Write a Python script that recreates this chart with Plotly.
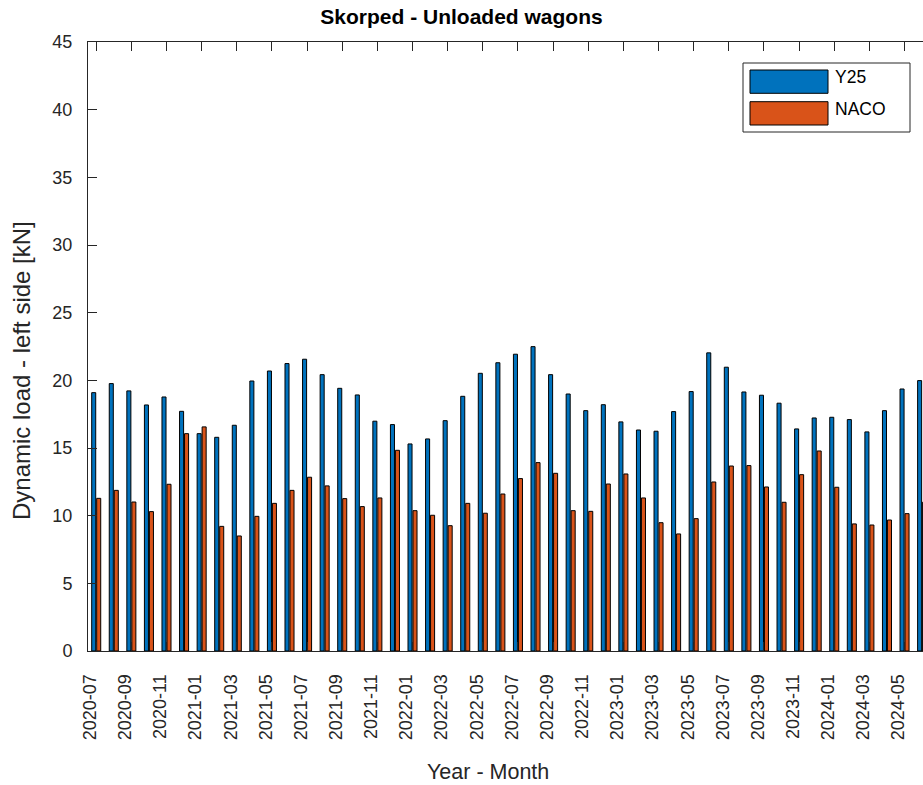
import plotly.graph_objects as go

months = ["2020-07", "2020-08", "2020-09", "2020-10", "2020-11", "2020-12",
          "2021-01", "2021-02", "2021-03", "2021-04", "2021-05", "2021-06",
          "2021-07", "2021-08", "2021-09", "2021-10", "2021-11", "2021-12",
          "2022-01", "2022-02", "2022-03", "2022-04", "2022-05", "2022-06",
          "2022-07", "2022-08", "2022-09", "2022-10", "2022-11", "2022-12",
          "2023-01", "2023-02", "2023-03", "2023-04", "2023-05", "2023-06",
          "2023-07", "2023-08", "2023-09", "2023-10", "2023-11", "2023-12",
          "2024-01", "2024-02", "2024-03", "2024-04", "2024-05", "2024-06"]

y25 = [19.09, 19.76, 19.22, 18.18, 18.77, 17.71, 16.06, 15.79, 16.68, 19.95, 20.69, 21.24,
       21.56, 20.42, 19.41, 18.92, 16.98, 16.73, 15.30, 15.67, 17.02, 18.82, 20.52, 21.30,
       21.93, 22.49, 20.42, 18.99, 17.76, 18.20, 16.93, 16.33, 16.24, 17.69, 19.17,
       22.03, 20.97, 19.14, 18.90, 18.31, 16.41, 17.22, 17.27, 17.10, 16.19, 17.76, 19.36, 19.98]

naco = [11.28, 11.87, 11.01, 10.30, 12.32, 16.06, 16.56, 9.21, 8.50, 9.95, 10.91, 11.87,
        12.84, 12.20, 11.26, 10.67, 11.31, 14.83, 10.37, 10.03, 9.26, 10.91, 10.18, 11.60,
        12.74, 13.92, 13.13, 10.37, 10.32, 12.34, 13.08, 11.31, 9.48, 8.65, 9.78,
        12.49, 13.67, 13.70, 12.12, 10.99, 13.03, 14.78, 12.10, 9.39, 9.31, 9.68, 10.15, 11.00]

series_names = ["Y25", "NACO"]
series_colors = ["#0072BD", "#D95319"]

tick_labels = months[::2]
idx = list(range(len(months)))
tick_idx = idx[::2]

W, H = 923, 785
L, R, T, B = 88, 923, 42, 651
FONT = "Liberation Sans, Arial, sans-serif"
AX = "#262626"

def px(x):
    return (x - L) / (R - L)

def py(y):
    return (B - y) / (B - T)

fig = go.Figure()
bw = 0.23
for name, vals, col, off in [(series_names[0], y25, series_colors[0], -0.257),
                             (series_names[1], naco, series_colors[1], 0.027)]:
    fig.add_trace(go.Bar(
        x=idx, y=vals, name=name, width=bw, offset=off,
        marker=dict(color=col, line=dict(color="black", width=1)),
        showlegend=False,
    ))

fig.update_layout(
    width=W, height=H,
    margin=dict(l=L, r=W - R, t=T, b=H - B),
    paper_bgcolor="white", plot_bgcolor="white",
    barmode="overlay",
    font=dict(family=FONT, size=18, color=AX),
    title=dict(text="<b>Skorped - Unloaded wagons</b>", x=0.5, xref="container",
               xanchor="center", y=1 - 17 / H, yref="container", yanchor="middle",
               font=dict(family=FONT, size=21, color="black")),
    xaxis=dict(range=[-0.467, 47.05], tickmode="array", tickvals=tick_idx,
               ticktext=tick_labels, tickangle=-90, ticks="inside", ticklen=9,
               tickcolor=AX, showline=True, linecolor=AX, linewidth=1,
               mirror="ticks", showgrid=False, zeroline=False,
               ticklabelstandoff=15, ticklabelshift=-6,
               tickfont=dict(size=18, color=AX)),
    yaxis=dict(range=[0, 45], tickmode="linear", tick0=0, dtick=5,
               ticks="inside", ticklen=9, tickcolor=AX, showline=True,
               linecolor=AX, linewidth=1, showgrid=False, zeroline=False,
               ticklabelstandoff=11,
               tickfont=dict(size=18, color=AX)),
    yaxis2=dict(range=[0, 45], overlaying="y", side="right", tickmode="linear",
                tick0=0, dtick=5, ticks="inside", ticklen=4, tickcolor=AX,
                showticklabels=False, showline=False, showgrid=False, zeroline=False),
)

# axis labels
fig.add_annotation(text="Year - Month", xref="paper", yref="paper",
                   x=px(488), y=py(772), xanchor="center", yanchor="middle",
                   showarrow=False, font=dict(family=FONT, size=21.5, color=AX))
fig.add_annotation(text="Dynamic load - left side [kN]", xref="paper", yref="paper",
                   x=px(21), y=py(371), xanchor="center", yanchor="middle",
                   textangle=-90, showarrow=False, font=dict(family=FONT, size=24, color=AX))

# legend box (MATLAB-style wide patches)
fig.add_shape(type="rect", xref="paper", yref="paper",
              x0=px(743), x1=px(910), y0=py(132), y1=py(63),
              line=dict(color=AX, width=1), fillcolor="white", layer="above")
for i, (name, col) in enumerate(zip(series_names, series_colors)):
    top = 70 + i * 31.7
    fig.add_shape(type="rect", xref="paper", yref="paper",
                  x0=px(750), x1=px(828), y0=py(top + 23.3), y1=py(top),
                  line=dict(color="black", width=1), fillcolor=col, layer="above")
    fig.add_annotation(text=name, xref="paper", yref="paper",
                       x=px(833), y=py(top + 7), xanchor="left", yanchor="middle",
                       showarrow=False, font=dict(family=FONT, size=17.5, color="black"))

fig.write_html("out.html")
